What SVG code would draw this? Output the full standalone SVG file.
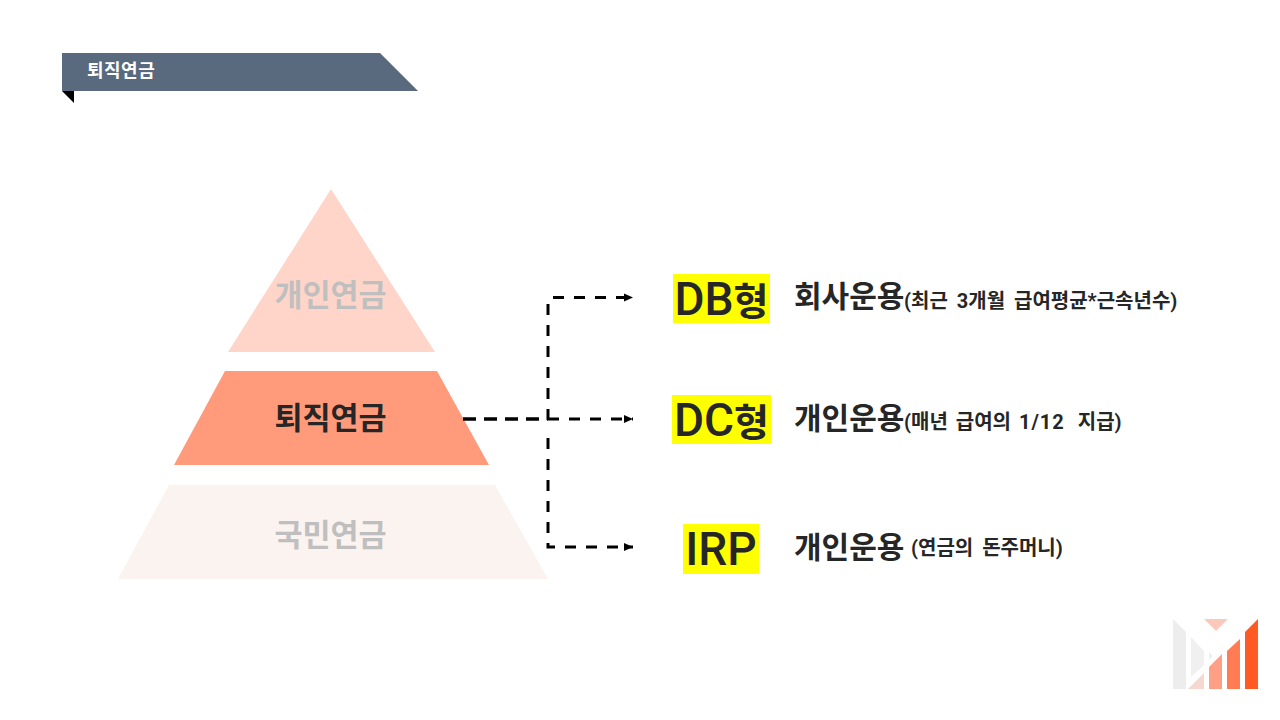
<svg xmlns="http://www.w3.org/2000/svg" width="1280" height="720" viewBox="0 0 1280 720">
<style>
text{font-family:Roboto,"Noto Sans CJK KR",sans-serif;font-weight:700;fill:#262626}
.p{font-size:30.500px;text-anchor:middle}
.t{font-size:46px;font-weight:500;text-anchor:middle}
.k{font-size:38px;font-weight:700}
.m{font-size:30px}
.s{font-size:20px;word-spacing:4px}
.c{fill:none;stroke:#000;stroke-width:3;stroke-dasharray:11 10}
.h{stroke-width:3.500;stroke-dasharray:13 8}
.y{fill:#ff0}
</style>
<defs><marker id="a" markerUnits="userSpaceOnUse" markerWidth="10" markerHeight="10" refX="9" refY="4.500" orient="auto"><path d="M0 0.500L9 4.500L0 8.500z" fill="#000"/></marker></defs>
<rect width="1280" height="720" fill="#fff"/>
<g id="title"><path d="M62 91L74 91L74 103z" fill="#000"/><path d="M62 53H380L418 91H62z" fill="#596a7f"/><text x="87" y="77" style="font-size:18px;letter-spacing:.5px;fill:#fff">퇴직연금</text></g>
<g id="tier1"><path d="M331 189L435 352H228z" fill="#ffd5c9"/><text class="p" x="330.500" y="306" style="fill:#bfbfbf">개인연금</text></g>
<g id="tier2"><path d="M225 371H437L489 465H174z" fill="#ff9a7b"/><text class="p" x="330.500" y="429">퇴직연금</text></g>
<g id="tier3"><path d="M169 485H495L548 579H118z" fill="#fbf3ef"/><text class="p" x="330.500" y="546" style="fill:#bfbfbf">국민연금</text></g>
<g id="connectors">
<path class="c h" d="M463 419H548"/>
<path class="c" d="M548 420V304"/>
<path class="c" d="M553 297.500H633" marker-end="url(#a)"/>
<path class="c" d="M548 419H633" marker-end="url(#a)"/>
<path class="c" d="M548 438V547H633" marker-end="url(#a)"/>
</g>
<g id="db"><rect class="y" x="673" y="274" width="97" height="49"/><text class="t" x="721.500" y="315">DB<tspan class="k">형</tspan></text><text class="m" x="794" y="307">회사운용</text><text class="s" x="904" y="308">(최근 3개월 급여평균*근속년수)</text></g>
<g id="dc"><rect class="y" x="672" y="395" width="99" height="49"/><text class="t" x="721.500" y="436">DC<tspan class="k">형</tspan></text><text class="m" x="794" y="429">개인운용</text><text class="s" x="904" y="429" style="word-spacing:3px">(매년 급여의 <tspan style="letter-spacing:1px">1/12</tspan> <tspan dx="5">지급)</tspan></text></g>
<g id="irp"><rect class="y" x="683" y="524" width="76" height="50"/><text class="t" x="721" y="565">IRP</text><text class="m" x="794" y="558">개인운용</text><text class="s" x="911" y="555">(연금의 돈주머니)</text></g>
<g id="logo">
<path d="M1173 619L1186 632V689H1173z" fill="#ededed"/>
<path d="M1191 637L1204 651V665L1191 677z" fill="#f0f0f0"/>
<path d="M1209 652L1213 656L1209 660z" fill="#f0f0f0"/>
<path d="M1204 619H1228L1216 631z" fill="#fbc9bb"/>
<path d="M1188 689L1204 673V689z" fill="#f5d8d0"/>
<path d="M1209 667L1222 654V689H1209z" fill="#ff9f85"/>
<path d="M1227 651L1240 639V689H1227z" fill="#ff7c55"/>
<path d="M1245 632L1258 619V689H1245z" fill="#ff5a23"/>
</g>
</svg>
